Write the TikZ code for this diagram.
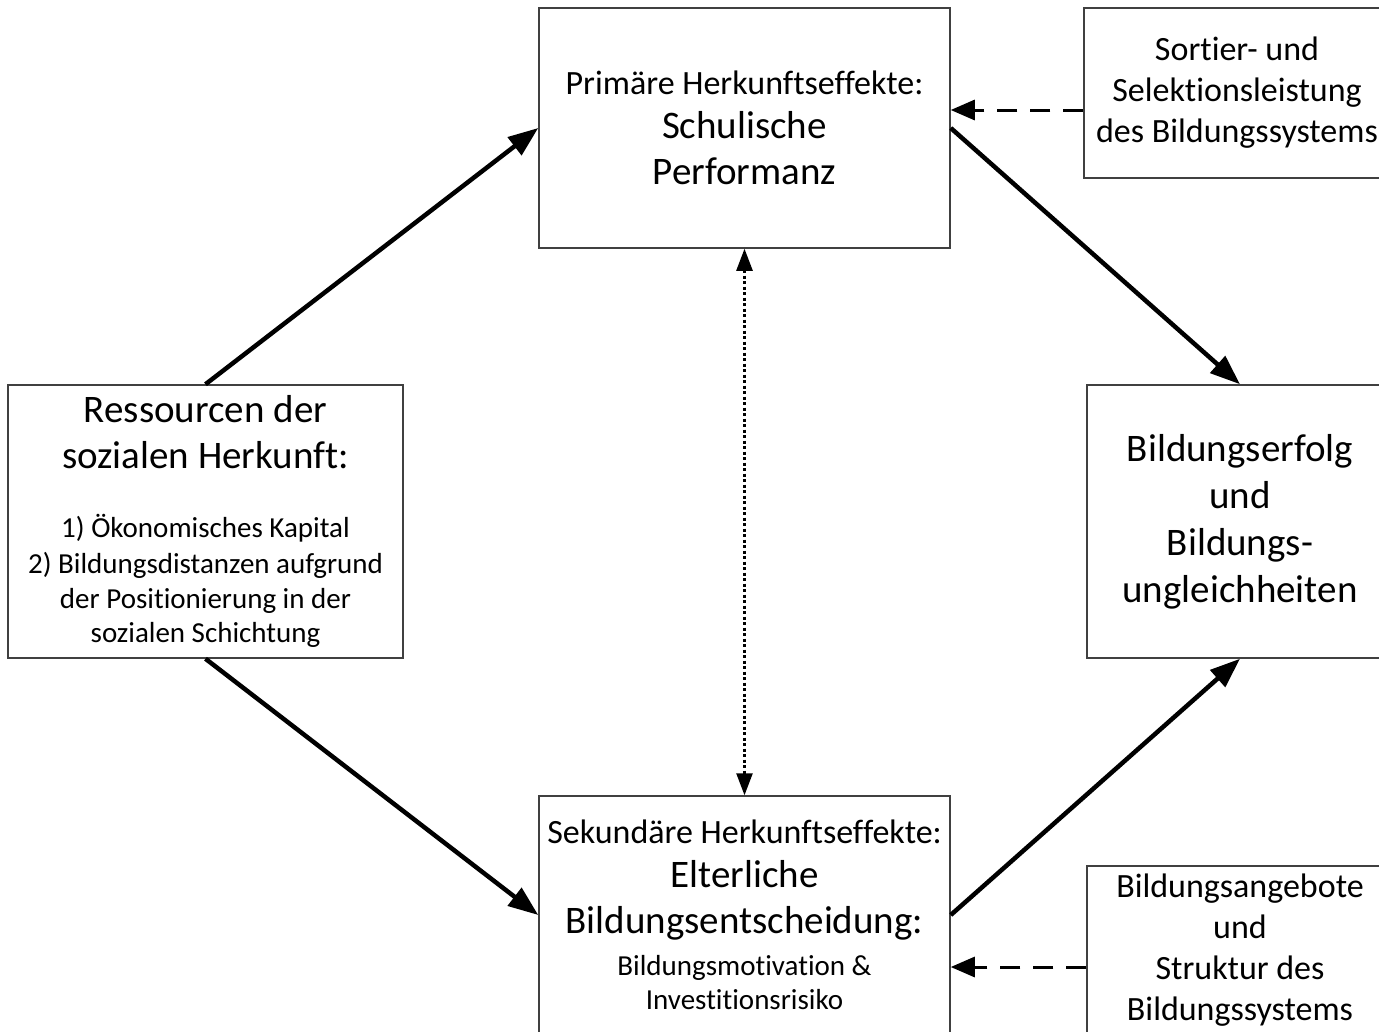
\documentclass[tikz,border=0pt]{standalone}
\usepackage{fontspec}
\setmainfont{Carlito}[Ligatures=NoCommon]
\usetikzlibrary{arrows.meta}

\newcommand{\smallsz}{\fontsize{29}{35}\selectfont}
\newcommand{\headsz}{\fontsize{34}{44}\selectfont}
\newcommand{\midsz}{\fontsize{34}{41}\selectfont}
\newcommand{\bigsz}{\fontsize{39}{46}\selectfont}

\tikzset{
  box/.style={draw=black!75, line width=1.5pt, inner sep=0pt, align=center},
  flow/.style={line width=4.5pt, -{Triangle[length=30pt,width=22pt]}},
  influence/.style={line width=3pt, dash pattern=on 20pt off 13pt, -{Triangle[length=24pt,width=20pt]}},
  mutual/.style={line width=2.5pt, dash pattern=on 3pt off 2.5pt,
    {Triangle[length=22pt,width=16pt]}-{Triangle[length=22pt,width=16pt]}}
}

\begin{document}
\begin{tikzpicture}[x=1pt, y=-1pt]
\useasboundingbox (0,0) rectangle (1379,1031);
\clip (0,0) rectangle (1379,1031);

% Herkunftseffekte
\node[box, font=\bigsz, minimum width=411, minimum height=240] at (744.5,128) (primaer)
  {\headsz Primäre Herkunftseffekte:\\[-2pt] Schulische\\ Performanz};
\node[box, font=\bigsz, minimum width=411, minimum height=238] at (744.5,915) (sekundaer)
  {\headsz Sekundäre Herkunftseffekte:\\[-2pt] Elterliche\\ Bildungsentscheidung:\\[-4pt]
   \smallsz Bildungsmotivation \&\\[-12pt] \smallsz Investitionsrisiko};

% Ressourcen und Ergebnis
\node[box, font=\bigsz, minimum width=395, minimum height=273] at (205.5,521.5) (ressourcen)
  {Ressourcen der\\ sozialen Herkunft:\\[23pt]
   \smallsz 1) Ökonomisches Kapital\\[-10pt] \smallsz 2) Bildungsdistanzen aufgrund\\[-11pt]
   \smallsz der Positionierung in der\\[-12pt] \smallsz sozialen Schichtung};
\node[box, font=\bigsz, minimum width=306, minimum height=273] at (1240,521.5) (erfolg)
  {Bildungserfolg\\[1pt] und\\[1pt] Bildungs-\\[1pt] ungleichheiten};

% Bildungssystem
\node[box, font=\midsz, minimum width=306, minimum height=170] at (1237,93) (selektion)
  {Sortier- und\\ Selektionsleistung\\ des Bildungssystems};
\node[box, font=\midsz, minimum width=306, minimum height=168] at (1240,950) (angebot)
  {Bildungsangebote\\ und\\ Struktur des\\ Bildungssystems};

% Pfeile
\draw[flow] (ressourcen.north) -- (primaer.west);
\draw[flow] (primaer.east) -- (erfolg.north);
\draw[flow] (ressourcen.south) -- (sekundaer.west);
\draw[flow] (sekundaer.east) -- (erfolg.south);
\draw[mutual] (primaer.south) -- (sekundaer.north);

\coordinate (d1) at (0,110);
\coordinate (d2) at (0,967);
\draw[influence] (selektion.west |- d1) -- (primaer.east |- d1);
\draw[influence] (angebot.west |- d2) -- (sekundaer.east |- d2);
\end{tikzpicture}
\end{document}
